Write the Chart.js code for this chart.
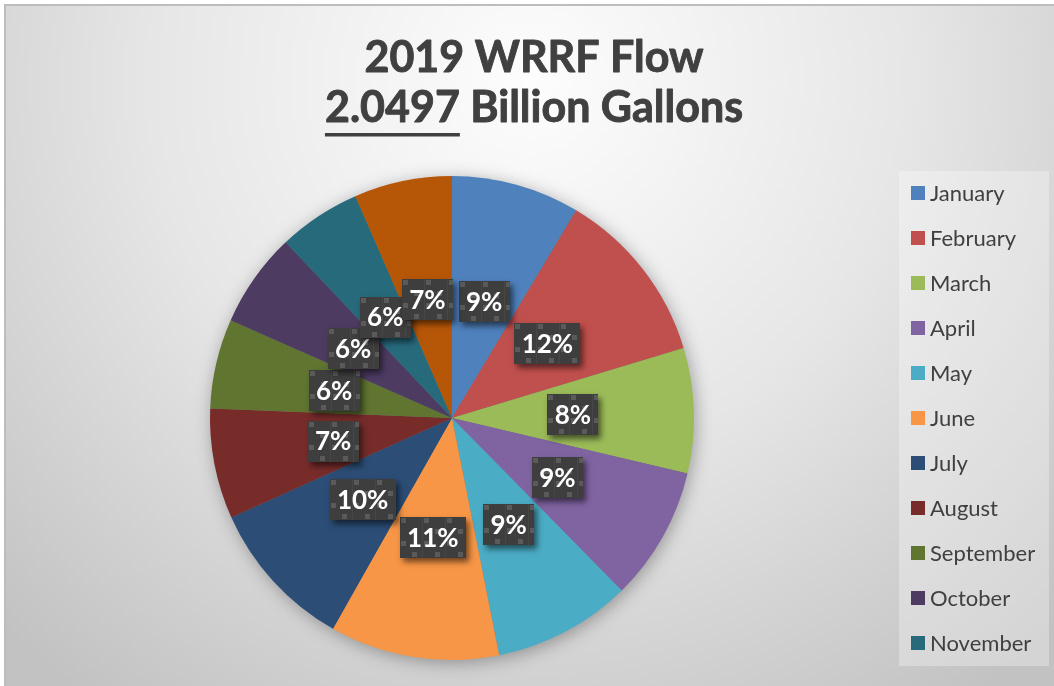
<!DOCTYPE html>
<html>
<head>
<meta charset="utf-8">
<script src="https://cdn.jsdelivr.net/npm/chart.js@4.4.0/dist/chart.umd.min.js"></script>
<style>
  html, body { margin: 0; padding: 0; background: #fff; }
  canvas { display: block; }
</style>
</head>
<body>
<canvas id="flowChart" width="1054" height="686"></canvas>
<script>
const months = [
  "January", "February", "March", "April", "May", "June",
  "July", "August", "September", "October", "November", "December",
];
// monthly plant flow, million gallons
const flowMG = [175.8, 240.8, 171.4, 183.2, 189.6, 231.8, 206.6, 150.9, 123.0, 129.3, 113.3, 134.0];
const sliceColors = [
  "#4F81BD", "#C0504D", "#9BBB59", "#8064A2", "#4BACC6", "#F79646",
  "#2C4D75", "#772C2A", "#5F7530", "#4D3B62", "#276A7C", "#B65708",
];

const totalMG = flowMG.reduce((a, b) => a + b, 0);
const totalBG = (totalMG / 1000).toFixed(4); // "2.0497"
const titleTop = "2019 WRRF Flow";
const titleBottom = " Billion Gallons";

const FONT = 'Lato, "Open Sans", sans-serif';
const TEXT_DARK = "#404040";

// small tile used to fill the label boxes
function makeLabelPattern(ctx) {
  const tile = document.createElement("canvas");
  tile.width = 23;
  tile.height = 23;
  const t = tile.getContext("2d");
  t.fillStyle = "#3e3e3e";
  t.fillRect(0, 0, 23, 23);
  t.fillStyle = "#474747";
  t.fillRect(22, 0, 1, 23);
  t.fillStyle = "#5a5a5a";
  t.fillRect(1, 1, 5, 5);
  t.fillRect(12, 12, 5, 5);
  return ctx.createPattern(tile, "repeat");
}

const backdrop = {
  id: "backdrop",
  beforeDraw(chart) {
    const { ctx, width, height } = chart;
    ctx.save();
    ctx.fillStyle = "#fff";
    ctx.fillRect(0, 0, width, height);
    const g = ctx.createRadialGradient(530, 80, 0, 530, 80, 760);
    g.addColorStop(0, "#fdfdfd");
    g.addColorStop(0.5, "#e6e6e6");
    g.addColorStop(1, "#c2c2c2");
    ctx.fillStyle = g;
    ctx.fillRect(6, 6, width - 6, height - 6);
    ctx.strokeStyle = "#bdbdbd";
    ctx.lineWidth = 2;
    ctx.beginPath();
    ctx.moveTo(5, height);
    ctx.lineTo(5, 5);
    ctx.lineTo(width, 5);
    ctx.stroke();
    ctx.restore();
  },
};

const pieShadow = {
  id: "pieShadow",
  beforeDatasetsDraw(chart) {
    const arc = chart.getDatasetMeta(0).data[0];
    if (!arc) return;
    const { ctx } = chart;
    ctx.save();
    ctx.shadowColor = "rgba(0,0,0,0.35)";
    ctx.shadowBlur = 18;
    ctx.shadowOffsetX = 2;
    ctx.shadowOffsetY = 3;
    ctx.fillStyle = "#777";
    ctx.beginPath();
    ctx.arc(arc.x, arc.y, arc.outerRadius - 1, 0, Math.PI * 2);
    ctx.fill();
    ctx.restore();
  },
};

const percentBoxes = {
  id: "percentBoxes",
  afterDatasetsDraw(chart) {
    const { ctx } = chart;
    const pattern = makeLabelPattern(ctx);
    const values = chart.data.datasets[0].data;
    ctx.save();
    ctx.font = "bold 26px " + FONT;
    chart.getDatasetMeta(0).data.forEach((arc, i) => {
      const text = Math.round((values[i] / totalMG) * 100) + "%";
      const p = arc.getCenterPoint();
      const w = Math.round(ctx.measureText(text).width + 15);
      const h = 41;
      const x = Math.round(p.x - w / 2);
      const y = Math.round(p.y - h / 2);

      ctx.save();
      ctx.shadowColor = "rgba(0,0,0,0.55)";
      ctx.shadowBlur = 6;
      ctx.shadowOffsetX = 3;
      ctx.shadowOffsetY = 4;
      ctx.fillStyle = "#3e3e3e";
      ctx.fillRect(x, y, w, h);
      ctx.restore();

      ctx.save();
      ctx.translate(x, y);
      ctx.fillStyle = pattern;
      ctx.fillRect(0, 0, w, h);
      ctx.restore();

      ctx.fillStyle = "#fff";
      ctx.textAlign = "center";
      ctx.textBaseline = "middle";
      ctx.fillText(text, p.x, p.y + 1);
    });
    ctx.restore();
  },
};

const titleAndLegend = {
  id: "titleAndLegend",
  afterDraw(chart) {
    const { ctx } = chart;
    const cx = 534;
    ctx.save();

    // title, stroked a little for extra weight
    ctx.fillStyle = TEXT_DARK;
    ctx.strokeStyle = TEXT_DARK;
    ctx.lineWidth = 0.9;
    ctx.lineJoin = "round";
    ctx.textBaseline = "alphabetic";
    ctx.font = "bold 43px " + FONT;
    ctx.textAlign = "center";
    ctx.fillText(titleTop, cx, 72);
    ctx.strokeText(titleTop, cx, 72);

    const wNum = ctx.measureText(totalBG).width;
    const wRest = ctx.measureText(titleBottom).width;
    const x0 = cx - (wNum + wRest) / 2;
    ctx.textAlign = "left";
    ctx.fillText(totalBG, x0, 122);
    ctx.strokeText(totalBG, x0, 122);
    ctx.fillText(titleBottom, x0 + wNum, 122);
    ctx.strokeText(titleBottom, x0 + wNum, 122);
    ctx.fillRect(x0, 133, wNum, 3.5);

    // legend
    const box = { x: 899, y: 171, w: 150, h: 495 };
    ctx.fillStyle = "rgba(255,255,255,0.3)";
    ctx.fillRect(box.x, box.y, box.w, box.h);
    ctx.beginPath();
    ctx.rect(box.x, box.y, box.w, box.h);
    ctx.clip();
    ctx.font = "22px " + FONT;
    ctx.textBaseline = "middle";
    chart.data.labels.forEach((label, i) => {
      const y = 193 + i * 45;
      ctx.fillStyle = sliceColors[i];
      ctx.fillRect(911, y - 7, 14, 14);
      ctx.fillStyle = TEXT_DARK;
      ctx.fillText(label, 930, y + 1);
    });
    ctx.restore();
  },
};

new Chart(document.getElementById("flowChart"), {
  type: "pie",
  data: {
    labels: months,
    datasets: [
      {
        data: flowMG,
        backgroundColor: sliceColors,
        borderWidth: 0,
      },
    ],
  },
  options: {
    responsive: false,
    animation: false,
    layout: {
      padding: { left: 210, right: 360, top: 176, bottom: 26 },
    },
    plugins: {
      legend: { display: false },
      tooltip: { enabled: false },
    },
  },
  plugins: [backdrop, pieShadow, percentBoxes, titleAndLegend],
});
</script>
</body>
</html>
